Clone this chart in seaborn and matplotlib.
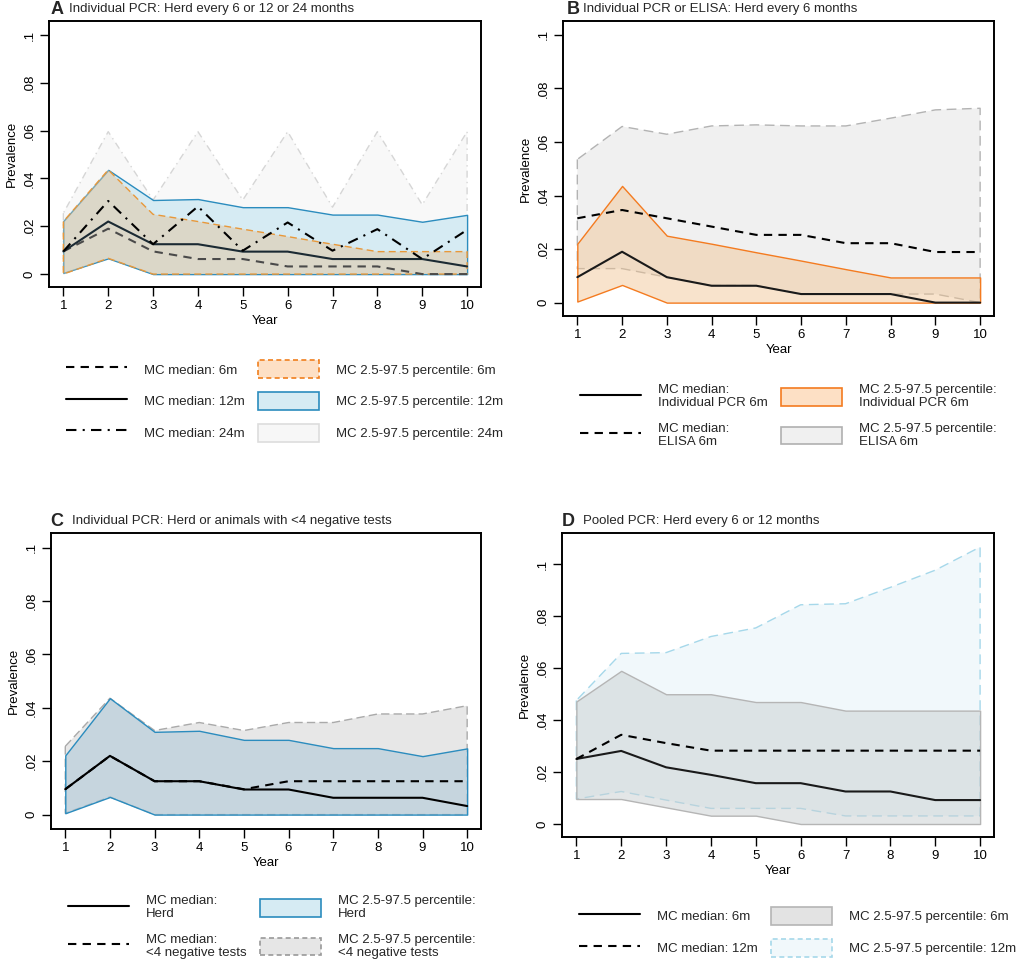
import numpy as np
import pandas as pd
import seaborn as sns
import matplotlib.pyplot as plt
from matplotlib.lines import Line2D
from matplotlib.patches import Patch

# x axis: years 1..10
years = list(range(1, 11))

# Panel A: individual PCR, herd tested every 6, 12 or 24 months
a_med_6m = [0.0095, 0.019, 0.0095, 0.0063, 0.0063, 0.0032, 0.0032, 0.0032, 0.0, 0.0]
a_lo_6m = [0.0, 0.0066, 0.0, 0.0, 0.0, 0.0, 0.0, 0.0, 0.0, 0.0]
a_hi_6m = [0.022, 0.0436, 0.025, 0.022, 0.0188, 0.0157, 0.0125, 0.0094, 0.0094, 0.0094]
a_med_12m = [0.0095, 0.022, 0.0125, 0.0125, 0.0094, 0.0094, 0.0063, 0.0063, 0.0063, 0.0032]
a_lo_12m = [0.0005, 0.0066, 0.0, 0.0, 0.0, 0.0, 0.0, 0.0, 0.0, 0.0]
a_hi_12m = [0.0222, 0.0436, 0.031, 0.0314, 0.028, 0.028, 0.0249, 0.0249, 0.0219, 0.0248]
a_med_24m = [0.0095, 0.0306, 0.0125, 0.0283, 0.0098, 0.0216, 0.0098, 0.0188, 0.0063, 0.0185]
a_lo_24m = [0.0, 0.0125, 0.0, 0.0063, 0.0, 0.0063, 0.0, 0.0032, 0.0, 0.0032]
a_hi_24m = [0.0255, 0.0596, 0.031, 0.0596, 0.031, 0.0596, 0.028, 0.0596, 0.029, 0.0596]

# Panel B: individual PCR vs ELISA, herd every 6 months
b_med_pcr = a_med_6m
b_lo_pcr = [0.0004, 0.0066, 0.0, 0.0, 0.0, 0.0, 0.0, 0.0, 0.0, 0.0]
b_hi_pcr = a_hi_6m
b_med_elisa = [0.0315, 0.0346, 0.0315, 0.0284, 0.0253, 0.0253, 0.0222, 0.0222, 0.0189, 0.0189]
b_lo_elisa = [0.0127, 0.0127, 0.0095, 0.0064, 0.0064, 0.0032, 0.0032, 0.0032, 0.0032, 0.0]
b_hi_elisa = [0.0535, 0.0658, 0.0629, 0.066, 0.0664, 0.066, 0.066, 0.0689, 0.072, 0.0726]

# Panel C: individual PCR, herd or animals with <4 negative tests
c_med_herd = a_med_12m
c_lo_herd = a_lo_12m
c_hi_herd = a_hi_12m
c_med_neg = [0.0095, 0.022, 0.0125, 0.0125, 0.0095, 0.0125, 0.0125, 0.0125, 0.0125, 0.0125]
c_lo_neg = [0.0005, 0.0066, 0.0, 0.0, 0.0, 0.0, 0.0, 0.0, 0.0, 0.0]
c_hi_neg = [0.0256, 0.0436, 0.0315, 0.0345, 0.0315, 0.0345, 0.0345, 0.0377, 0.0377, 0.0408]

# Panel D: pooled PCR, herd every 6 or 12 months
d_med_6m = [0.025, 0.0281, 0.0218, 0.0189, 0.0157, 0.0157, 0.0125, 0.0125, 0.0092, 0.0092]
d_lo_6m = [0.0096, 0.0096, 0.0064, 0.0032, 0.0032, 0.0, 0.0, 0.0, 0.0, 0.0]
d_hi_6m = [0.0471, 0.0589, 0.0499, 0.0499, 0.0469, 0.0469, 0.0436, 0.0436, 0.0436, 0.0436]
d_med_12m = [0.025, 0.0343, 0.0311, 0.0282, 0.0282, 0.0282, 0.0282, 0.0282, 0.0282, 0.0282]
d_lo_12m = [0.0096, 0.0125, 0.0092, 0.006, 0.006, 0.006, 0.0031, 0.0031, 0.0031, 0.0031]
d_hi_12m = [0.0475, 0.0656, 0.0659, 0.0721, 0.0754, 0.0843, 0.0847, 0.091, 0.0976, 0.1065]

ytick_vals = [0, 0.02, 0.04, 0.06, 0.08, 0.1]
ytick_labels = ['0', '.02', '.04', '.06', '.08', '.1']

sns.set_theme(style='white')
plt.rcParams['font.family'] = ['Liberation Sans', 'DejaVu Sans']

FS = 9.5
W, H = 1021, 967
fig = plt.figure(figsize=(W / 100, H / 100), dpi=100)

DASH = (0, (4, 3))
DASHDOT = (0, (5, 3, 1, 3))


def make_axes(left, right, top, bottom, ylim):
    ax = fig.add_axes([left / W, 1 - bottom / H, (right - left) / W, (bottom - top) / H])
    ax.set_xlim(0.68, 10.31)
    ax.set_ylim(*ylim)
    ax.set_xticks(years)
    ax.set_yticks(ytick_vals)
    ax.set_yticklabels(ytick_labels, rotation=90, va='center')
    ax.tick_params(direction='out', length=6.5, width=1, labelsize=FS,
                   left=True, bottom=True, pad=3, colors='black')
    for s in ax.spines.values():
        s.set_linewidth(1.4)
        s.set_color('black')
    return ax


def finish(ax):
    ax.set_xlabel('Year', fontsize=FS, labelpad=2, color='black')
    ax.set_ylabel('Prevalence', fontsize=FS, labelpad=4, color='black')


def band(ax, lo, hi, face, edge, ls, z):
    ax.fill_between(years, lo, hi, facecolor=face, edgecolor=edge,
                    linestyle=ls, linewidth=1.0, zorder=z)


def median(ax, vals, ls, color='black', z=6):
    sns.lineplot(x=years, y=vals, ax=ax, color=color, linestyle=ls,
                 linewidth=1.5, zorder=z)


def title(x_letter, x_text, y, letter, text):
    fig.text(x_letter / W, 1 - y / H, letter, fontsize=13, weight='bold', va='center')
    fig.text(x_text / W, 1 - y / H, text, fontsize=FS, va='center')


def legend(handles, labels, x, y, two_line=False):
    leg = fig.legend(handles, labels, ncol=2, loc='center left',
                     bbox_to_anchor=(x / W, 1 - y / H), frameon=False,
                     fontsize=FS, handlelength=4.6, handleheight=1.7,
                     handletextpad=1.3, columnspacing=1.05,
                     labelspacing=1.0 if two_line else 1.05,
                     borderpad=0, borderaxespad=0)
    for t in leg.get_texts():
        t.set_linespacing(1.15)
    return leg


orange = '#f07f1e'
orange_fill = '#fde0c5'
blue = '#2b8cbe'
blue_fill = '#d6ebf3'

# ---------------- Panel A ----------------
ax = make_axes(49, 481, 21, 287, (-0.0054, 0.1059))
band(ax, a_lo_24m, a_hi_24m, '#f8f8f8', '#d6d6d6', DASHDOT, 1)
band(ax, a_lo_12m, a_hi_12m, blue_fill, blue, '-', 2)
band(ax, a_lo_6m, a_hi_6m, (0.88, 0.77, 0.62, 0.5), '#e8983a', (0, (5, 3)), 3)
median(ax, a_med_6m, DASH, color='#4a4a4a')
median(ax, a_med_12m, '-', color='#1b2a33')
median(ax, a_med_24m, DASHDOT)
finish(ax)
title(51, 69, 9, 'A', 'Individual PCR: Herd every 6 or 12 or 24 months')
h = [Line2D([], [], color='black', lw=1.5, ls=DASH),
     Line2D([], [], color='black', lw=1.5, ls='-'),
     Line2D([], [], color='black', lw=1.5, ls=DASHDOT),
     Patch(facecolor=orange_fill, edgecolor=orange, ls=(0, (3, 2)), lw=1.2),
     Patch(facecolor=blue_fill, edgecolor=blue, lw=1.2),
     Patch(facecolor='#f7f7f7', edgecolor='#dddddd', lw=1.2)]
l = ['MC median: 6m', 'MC median: 12m', 'MC median: 24m',
     'MC 2.5-97.5 percentile: 6m', 'MC 2.5-97.5 percentile: 12m',
     'MC 2.5-97.5 percentile: 24m']
legend(h, l, 66, 401)

# ---------------- Panel B ----------------
ax = make_axes(563, 994, 21, 316, (-0.005, 0.1052))
band(ax, b_lo_elisa, b_hi_elisa, '#f0f0f0', '#b3b3b3', (0, (7, 4)), 1)
band(ax, b_lo_pcr, b_hi_pcr, (0.94, 0.76, 0.56, 0.45), '#f47b20', '-', 2)
median(ax, b_med_pcr, '-', color='#1a1a1a')
median(ax, b_med_elisa, DASH)
finish(ax)
title(567, 583, 9, 'B', 'Individual PCR or ELISA: Herd every 6 months')
h = [Line2D([], [], color='black', lw=1.5, ls='-'),
     Line2D([], [], color='black', lw=1.5, ls=DASH),
     Patch(facecolor=orange_fill, edgecolor='#f47b20', lw=1.2),
     Patch(facecolor='#f0f0f0', edgecolor='#b0b0b0', lw=1.2)]
l = ['MC median:\nIndividual PCR 6m', 'MC median:\nELISA 6m',
     'MC 2.5-97.5 percentile:\nIndividual PCR 6m',
     'MC 2.5-97.5 percentile:\nELISA 6m']
legend(h, l, 580, 416, two_line=True)

# ---------------- Panel C ----------------
ax = make_axes(51, 481, 533, 829, (-0.0054, 0.1055))
band(ax, c_lo_neg, c_hi_neg, '#e7e7e7', '#aaaaaa', (0, (6, 3)), 1)
band(ax, c_lo_herd, c_hi_herd, (0.65, 0.77, 0.84, 0.5), blue, '-', 2)
median(ax, c_med_neg, DASH)
median(ax, c_med_herd, '-')
finish(ax)
title(50, 72, 521, 'C', 'Individual PCR: Herd or animals with <4 negative tests')
h = [Line2D([], [], color='black', lw=1.5, ls='-'),
     Line2D([], [], color='black', lw=1.5, ls=DASH),
     Patch(facecolor=blue_fill, edgecolor=blue, lw=1.2),
     Patch(facecolor='#e6e6e6', edgecolor='#999999', ls=(0, (3, 2)), lw=1.2)]
l = ['MC median:\nHerd', 'MC median:\n<4 negative tests',
     'MC 2.5-97.5 percentile:\nHerd', 'MC 2.5-97.5 percentile:\n<4 negative tests']
legend(h, l, 68, 927, two_line=True)

# ---------------- Panel D ----------------
ax = make_axes(562, 994, 533, 837, (-0.005, 0.1119))
band(ax, d_lo_12m, d_hi_12m, '#f1f8fb', '#a6d8ea', (0, (7, 4)), 1)
band(ax, d_lo_6m, d_hi_6m, (0.79, 0.81, 0.82, 0.5), '#b5b5b5', '-', 2)
median(ax, d_med_6m, '-', color='#1a1a1a')
median(ax, d_med_12m, DASH)
finish(ax)
title(562, 583, 521, 'D', 'Pooled PCR: Herd every 6 or 12 months')
h = [Line2D([], [], color='black', lw=1.5, ls='-'),
     Line2D([], [], color='black', lw=1.5, ls=DASH),
     Patch(facecolor='#e3e3e3', edgecolor='#b5b5b5', lw=1.2),
     Patch(facecolor='#f1f8fb', edgecolor='#a6d8ea', ls=(0, (3, 2)), lw=1.2)]
l = ['MC median: 6m', 'MC median: 12m',
     'MC 2.5-97.5 percentile: 6m', 'MC 2.5-97.5 percentile: 12m']
legend(h, l, 579, 932)

fig.savefig('out.png', dpi=100)
